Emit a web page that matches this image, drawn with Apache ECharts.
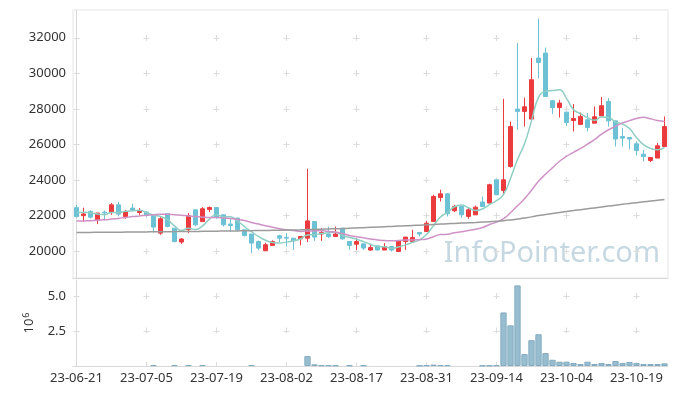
<!DOCTYPE html>
<html><head><meta charset="utf-8">
<script src="https://cdn.jsdelivr.net/npm/echarts@6/dist/echarts.min.js"></script>
<style>html,body{margin:0;padding:0;background:#fff}#c{width:677px;height:396px}</style>
</head><body><div id="c"></div>
<script>
const dates = ['23-06-21','23-06-22','23-06-23','23-06-26','23-06-27','23-06-28','23-06-29','23-06-30','23-07-03','23-07-04',
'23-07-05','23-07-06','23-07-07','23-07-10','23-07-11','23-07-12','23-07-13','23-07-14','23-07-17','23-07-18',
'23-07-19','23-07-20','23-07-21','23-07-24','23-07-25','23-07-26','23-07-27','23-07-28','23-07-31','23-08-01',
'23-08-02','23-08-03','23-08-04','23-08-07','23-08-08','23-08-09','23-08-10','23-08-11','23-08-14','23-08-16',
'23-08-17','23-08-18','23-08-21','23-08-22','23-08-23','23-08-24','23-08-25','23-08-28','23-08-29','23-08-30',
'23-08-31','23-09-01','23-09-04','23-09-05','23-09-06','23-09-07','23-09-08','23-09-11','23-09-12','23-09-13',
'23-09-14','23-09-15','23-09-18','23-09-19','23-09-20','23-09-21','23-09-22','23-09-25','23-09-26','23-09-27',
'23-10-04','23-10-05','23-10-06','23-10-10','23-10-11','23-10-12','23-10-13','23-10-16','23-10-17','23-10-18',
'23-10-19','23-10-20','23-10-23','23-10-24','23-10-25'];

const opens = [22450,22000,22240,21770,22200,22200,22610,21960,22430,22180,
22200,22010,21020,22110,21300,20520,21210,22330,21670,22350,
22460,22050,21530,21870,21210,20970,20550,20030,20330,20870,
20780,20740,20700,20740,21670,20970,20970,20830,21300,20550,
20400,20420,20070,20310,20070,20270,19990,20550,20550,21060,
21110,21670,23020,23230,22280,22520,21960,22050,22770,22710,
24020,23420,24770,27990,27860,27430,30860,31140,28460,28080,
27820,27350,27130,27390,27200,27610,28420,27330,26450,26400,
26040,25460,25100,25240,25890];
const closes = [21950,22100,21920,22150,22150,22610,22090,22240,22290,22280,
22010,21360,21830,21400,20550,20690,22000,21490,22390,22460,
21900,21490,21450,21210,20890,20460,20180,20370,20550,20740,
20740,20590,20830,21710,20800,21060,20830,20970,20700,20330,
20550,20180,20210,20070,20270,20070,20590,20800,20780,20970,
21580,23080,23230,22110,22520,22050,22330,22480,22520,23740,
23180,24020,27010,27860,28120,29640,30610,28700,28080,28330,
27240,27460,27580,26960,27560,28180,27330,26310,26360,26310,
25660,25330,25270,25930,27010];
const lows = [21900,21670,21850,21530,21730,22050,21960,21830,22240,22050,
21950,21060,20930,21350,20500,20420,21020,21400,21670,22200,
21830,21390,21110,21110,20830,19900,20070,20030,20330,20520,
20270,20080,20330,20520,20590,20590,20740,20830,20650,20080,
20080,20080,20020,20070,20070,19990,19990,20080,20550,20830,
21110,21670,22800,21960,22200,21870,21830,22050,22520,22710,
23150,23220,24700,26830,27010,27330,29730,28700,27710,27520,
27050,26730,27130,26730,27200,27610,27010,25890,25890,25740,
25380,25050,25010,25240,25890];
const highs = [22600,22450,22300,22150,22290,22710,22770,22330,22670,22430,
22250,22050,21940,22110,21300,20740,22150,22330,22480,22520,
22460,22050,21870,21870,21210,20970,20600,20480,20620,20930,
21020,20740,20830,24640,21670,21300,21390,21390,21300,20550,
20740,20420,20400,20310,20460,20270,20590,20800,21210,21080,
21710,23180,23460,23230,22610,22520,22460,22570,23080,23800,
24020,28570,27290,31700,28640,30860,33070,31450,28500,28510,
27820,28270,27800,27770,28140,28670,28610,27330,26920,26400,
26170,25700,25270,26080,27580];

const ma5 = [22180,22200,22150,22100,22054,22186,22184,22248,22276,22302,
22182,22036,21954,21776,21430,21166,21294,21226,21424,21806,
22048,21946,21938,21702,21388,21100,20838,20622,20490,20460,
20516,20598,20690,20922,20934,20998,21046,21074,20872,20778,
20676,20546,20394,20268,20256,20160,20242,20360,20502,20642,
20944,21442,21928,22194,22504,22598,22448,22298,22380,22624,
22850,23188,24094,25162,26038,27330,28648,28986,29030,29072,
28592,27962,27738,27514,27360,27548,27522,27268,27152,26898,
26394,25994,25786,25700,25840];
const ma20 = [21700,21710,21720,21740,21770,21810,21850,21900,21950,21990,
22030,22060,22080,22080,22060,22030,21990,21950,21920,21898,
21896,21865,21842,21795,21732,21624,21529,21435,21348,21271,
21208,21169,21119,21135,21147,21166,21107,21081,20997,20890,
20823,20757,20695,20638,20607,20588,20608,20630,20641,20653,
20695,20819,20939,20959,21045,21095,21170,21245,21336,21507,
21638,21830,22170,22560,22952,23431,23932,24327,24692,25060,
25343,25562,25779,26022,26274,26580,26830,27022,27214,27342,
27466,27532,27445,27348,27292];
const ma120 = [21057,21060,21063,21066,21069,21072,21075,21078,21082,21086,
21090,21094,21098,21102,21106,21110,21114,21118,21122,21127,
21132,21137,21142,21148,21154,21160,21166,21172,21179,21186,
21193,21200,21208,21220,21232,21244,21256,21268,21281,21296,
21312,21328,21345,21362,21380,21398,21416,21434,21452,21470,
21488,21510,21530,21548,21566,21584,21602,21620,21640,21662,
21686,21716,21760,21815,21872,21935,22010,22070,22130,22186,
22240,22290,22340,22390,22440,22490,22540,22590,22640,22690,
22735,22780,22825,22868,22910];

// volume in millions of shares (0 = too small to see in the picture)
const volumes = [0,0,0,0,0,0,0,0,0,0,
0,0.06,0,0,0.06,0,0.06,0,0.06,0,
0,0,0,0,0,0.06,0,0,0,0,
0,0,0,0.71,0.12,0.05,0.05,0.04,0,0.05,
0,0.05,0,0,0,0,0,0,0,0.03,
0.05,0.10,0.06,0.06,0,0,0,0,0.03,0.04,
0.05,3.86,2.93,5.81,0.86,1.86,2.29,0.93,0.45,0.31,
0.31,0.21,0.14,0.31,0.14,0.21,0.14,0.36,0.21,0.29,
0.21,0.14,0.14,0.14,0.19];

const priceStep = 2000;
const volStep = 2.5;

const UP = '#eb3b3e', DOWN = '#6cc1d5';
const FONT = 'Noto Sans';
const chart = echarts.init(document.getElementById('c'), null, {renderer: 'canvas'});

const option = {
  animation: false,
  backgroundColor: '#fff',
  textStyle: {fontFamily: FONT},
  grid: [
    {left: 73, right: 9, top: 10, height: 268, show: true, borderColor: '#e6e6e6', borderWidth: 1},
    {left: 73, right: 9, top: 280, height: 86}
  ],
  xAxis: [
    {type: 'category', gridIndex: 0, data: dates, boundaryGap: true,
     axisLine: {show: true, lineStyle: {color: '#d8d8d8'}}, axisTick: {show: false},
     axisLabel: {show: false}, splitLine: {show: false}},
    {type: 'category', gridIndex: 1, data: dates, boundaryGap: true,
     axisLine: {show: true, lineStyle: {color: '#d8d8d8'}}, axisTick: {show: false},
     axisLabel: {interval: 9, color: '#333', fontSize: 13, margin: 6, fontFamily: FONT},
     splitLine: {show: false}},
    {type: 'value', gridIndex: 0, min: -0.5, max: 84.5, minInterval: 10, maxInterval: 10,
     axisLine: {show: false}, axisTick: {show: false}, axisLabel: {show: false},
     splitLine: {show: true, showMinLine: false, showMaxLine: false,
       lineStyle: {color: '#dcdcdc', width: 1, type: [6, 29.59], dashOffset: 10.8}}},
    {type: 'value', gridIndex: 1, min: -0.5, max: 84.5, minInterval: 10, maxInterval: 10,
     axisLine: {show: false}, axisTick: {show: false}, axisLabel: {show: false},
     splitLine: {show: true, showMinLine: false, showMaxLine: false,
       lineStyle: {color: '#dcdcdc', width: 1, type: [6, 28.5], dashOffset: 21.5}}}
  ],
  yAxis: [
    {type: 'value', gridIndex: 0, min: 18500, max: 33560, minInterval: priceStep, maxInterval: priceStep,
     axisLine: {show: true, lineStyle: {color: '#d8d8d8'}}, axisTick: {show: false},
     axisLabel: {color: '#333', fontSize: 13, margin: 7, showMinLabel: false, showMaxLabel: false, fontFamily: FONT,
       formatter: v => String(Math.round(v))},
     splitLine: {show: true, showMinLine: false, showMaxLine: false,
       lineStyle: {color: '#dcdcdc', width: 1, type: [6, 64], dashOffset: 69.5}}},
    {type: 'value', gridIndex: 1, min: 0, max: 6.2, minInterval: volStep, maxInterval: volStep,
     name: '{b|10}{s|6}', nameLocation: 'middle', nameRotate: 90, nameGap: 36,
     nameTextStyle: {color: '#333', rich: {b: {fontSize: 13, color: '#333', fontFamily: FONT}, s: {fontSize: 9, color: '#333', verticalAlign: 'top', fontFamily: FONT, padding: [0, 0, 6, 1]}}},
     axisLine: {show: true, lineStyle: {color: '#d8d8d8'}}, axisTick: {show: false},
     axisLabel: {color: '#333', fontSize: 13, margin: 7, showMinLabel: false, showMaxLabel: false, fontFamily: FONT,
       formatter: v => v.toFixed(1)},
     splitLine: {show: true, showMinLine: false, showMaxLine: false,
       lineStyle: {color: '#dcdcdc', width: 1, type: [6, 64], dashOffset: 69.5}}}
  ],
  graphic: [{
    type: 'text', right: 17, top: 239, z: 0, silent: true,
    style: {text: 'InfoPointer.com', fontSize: 29, fill: '#c6d8e2', fontFamily: FONT}
  }],
  series: [
    {type: 'candlestick', xAxisIndex: 0, yAxisIndex: 0, barWidth: '70%',
     data: dates.map((d, i) => [opens[i], closes[i], lows[i], highs[i]]),
     itemStyle: {color: UP, color0: DOWN, borderColor: UP, borderColor0: DOWN, borderWidth: 1}},
    {type: 'line', xAxisIndex: 0, yAxisIndex: 0, data: ma5, smooth: true, symbol: 'none',
     lineStyle: {color: '#8fcfc3', width: 1.5}},
    {type: 'line', xAxisIndex: 0, yAxisIndex: 0, data: ma20, smooth: true, symbol: 'none',
     lineStyle: {color: '#cf92c7', width: 1.5}},
    {type: 'line', xAxisIndex: 0, yAxisIndex: 0, data: ma120, smooth: true, symbol: 'none',
     lineStyle: {color: '#9b9b9b', width: 1.5}},
    {type: 'bar', xAxisIndex: 1, yAxisIndex: 1, barCategoryGap: '10%',
     data: volumes.map(v => v > 0 ? v : {value: v, itemStyle: {borderWidth: 0, opacity: 0}}),
     itemStyle: {color: '#97bdcf', borderColor: '#82abc1', borderWidth: 1}}
  ]
};
chart.setOption(option);
</script></body></html>
